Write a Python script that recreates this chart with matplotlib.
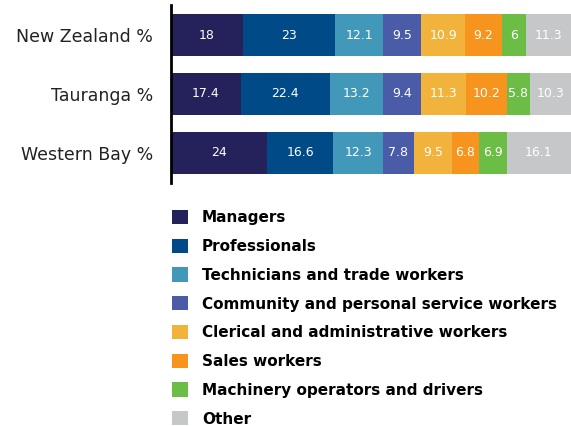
import numpy as np
import matplotlib
matplotlib.use("Agg")
import matplotlib.pyplot as plt

plt.rcParams['font.family'] = ['DejaVu Sans']

regions = ["New Zealand %", "Tauranga %", "Western Bay %"]
categories = ["Managers", "Professionals", "Technicians and trade workers",
              "Community and personal service workers",
              "Clerical and administrative workers", "Sales workers",
              "Machinery operators and drivers", "Other"]
managers = [18, 17.4, 24]
professionals = [23, 22.4, 16.6]
technicians = [12.1, 13.2, 12.3]
community = [9.5, 9.4, 7.8]
clerical = [10.9, 11.3, 9.5]
sales = [9.2, 10.2, 6.8]
machinery = [6, 5.8, 6.9]
other = [11.3, 10.3, 16.1]
series = [managers, professionals, technicians, community, clerical, sales,
          machinery, other]
colors = ["#25215a", "#004b87", "#4298b8", "#4a5ba8", "#f2b33d", "#f7941d",
          "#6cbd45", "#c6c7c9"]

fig = plt.figure(figsize=(5.71, 4.26), dpi=100)
ax = fig.add_axes([171 / 571, 1 - 183 / 426, 1 - 171 / 571, 178 / 426])

y = np.arange(len(regions))
left = np.zeros(len(regions))
for vals, col, name in zip(series, colors, categories):
    bars = ax.barh(y, vals, left=left, height=0.71, color=col, label=name)
    ax.bar_label(bars, labels=["%g" % v for v in vals], label_type="center",
                 color="white", fontsize=9)
    left += np.array(vals)

ax.set_xlim(0, 100)
ax.set_ylim(2.51, -0.51)
ax.set_yticks(y)
ax.set_yticklabels(regions, fontsize=12.5, color="#222222")
ax.tick_params(axis="y", length=0, pad=13)
ax.set_xticks([])
for s in ["top", "right", "bottom"]:
    ax.spines[s].set_visible(False)
ax.spines["left"].set_linewidth(2)
ax.spines["left"].set_color("black")

handles, labels = ax.get_legend_handles_labels()
fig.legend(handles, labels, loc="upper left",
           bbox_to_anchor=(172 / 571, 1 - 210 / 426), frameon=False,
           prop={"weight": "bold", "size": 11}, handlelength=1.05,
           handleheight=1.05, labelspacing=0.88, handletextpad=0.9,
           borderpad=0, borderaxespad=0)

fig.savefig("out.png", dpi=100)
